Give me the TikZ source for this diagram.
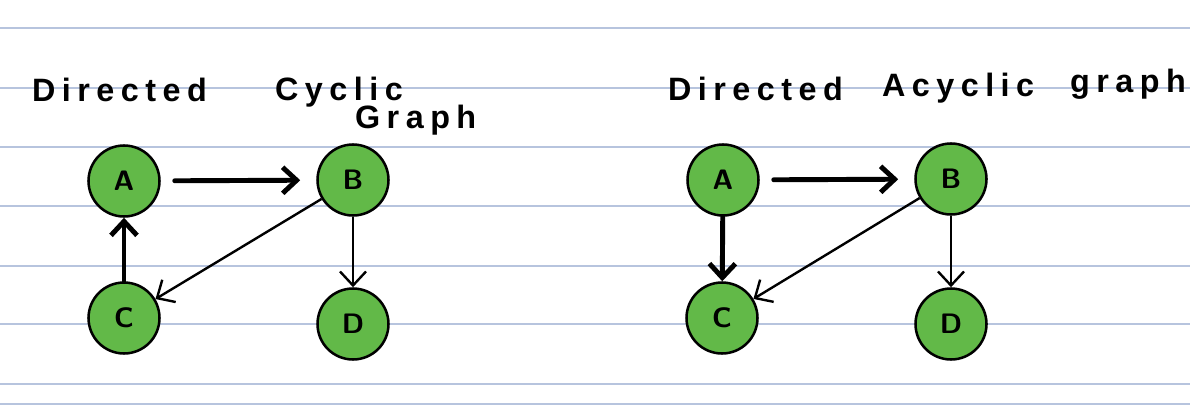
\documentclass[tikz,border=0pt]{standalone}
\usepackage{fontspec}
\usetikzlibrary{arrows.meta}
\newfontfamily\handfont[LetterSpace=20]{Liberation Sans}
\definecolor{leafgreen}{RGB}{98,185,72}
\definecolor{ruleblue}{RGB}{183,196,222}

\begin{document}
\begin{tikzpicture}[
            x=0.05cm, y=-0.05cm,
            vertex/.style={circle, draw=black, fill=leafgreen, line width=3.6pt, minimum size=3.55cm, inner sep=0pt, font=\fontsize{40}{44}\selectfont\sffamily\bfseries},
            title/.style={anchor=base west, inner sep=0pt, font=\fontsize{46}{52}\selectfont\handfont\bfseries},
            heavy/.style={-{Straight Barb[length=0.7cm, width=1.3cm]}, line width=7pt, line cap=round},
            light/.style={-{Straight Barb[length=0.7cm, width=1.3cm]}, line width=3.4pt},
            paper/.style={ruleblue, line width=1.6pt}
        ]

        %page
        \useasboundingbox[fill=white] (0,0) rectangle (1201,407);
        \foreach \y in {28,88,147,206,266,324,384,404}
            \draw[paper] (0,\y) -- (1190,\y);

        %titles
        \node[title]    (cyc_t1)    at (32,101)     {Directed};
        \node[title]    (cyc_t2)    at (275,100)    {Cyclic};
        \node[title]    (cyc_t3)    at (355,128)    {Graph};
        \node[title]    (acyc_t1)   at (668,100)    {Directed};
        \node[title]    (acyc_t2)   at (882,96)     {Acyclic};
        \node[title]    (acyc_t3)   at (1070,92)    {graph};

        %cyclic graph
        \node[vertex]   (cyc_A)     at (124,181)    {A};
        \node[vertex]   (cyc_B)     at (353,180)    {B};
        \node[vertex]   (cyc_C)     at (124,318)    {C};
        \node[vertex]   (cyc_D)     at (353,324)    {D};

        %acyclic graph
        \node[vertex]   (acyc_A)    at (723,180)    {A};
        \node[vertex]   (acyc_B)    at (951,179)    {B};
        \node[vertex]   (acyc_C)    at (722,318)    {C};
        \node[vertex]   (acyc_D)    at (951,324)    {D};

        %arrows
        \draw[heavy, shorten <=0.7cm, shorten >=0.8cm]  (cyc_A) -- (cyc_B);
        \draw[heavy]    (cyc_C) -- (cyc_A);
        \draw[light]    (cyc_B) -- (cyc_C);
        \draw[light]    (cyc_B) -- (cyc_D);

        \draw[heavy, shorten <=0.7cm, shorten >=0.8cm]  (acyc_A) -- (acyc_B);
        \draw[heavy]    (acyc_A) -- (acyc_C);
        \draw[light]    (acyc_B) -- (acyc_C);
        \draw[light]    (acyc_B) -- (acyc_D);

        \end{tikzpicture}
\end{document}
